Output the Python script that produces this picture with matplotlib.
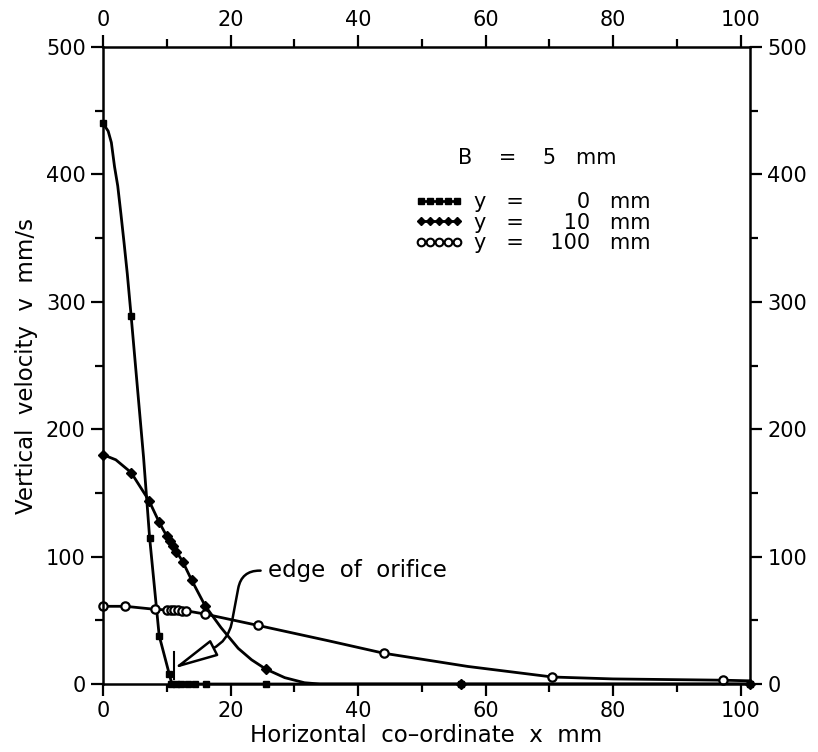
import matplotlib.pyplot as plt
from matplotlib.lines import Line2D

plt.rcParams['font.family'] = ['DejaVu Sans']

# y = 0 mm : markers and the line
x0_marks = [0, 4.4, 7.3, 8.8, 10.4, 10.7, 11.5, 12.3, 13.3, 14.4, 16.1, 25.5, 56.2, 101.5]
v0_marks = [440, 289, 115, 38, 7.5, 0, 0, 0, 0, 0, 0, 0, 0, 0]
x0_line = [0, 0.8, 1.3, 1.8, 2.3, 2.8, 3.3, 3.8, 4.4, 5.4, 6.35, 7.3, 8.8, 10.4, 10.8, 101.5]
v0_line = [440, 434, 425, 406, 391, 369, 346, 322, 289, 232, 178, 115, 38, 7.5, 0, 0]

# y = 10 mm
x10_marks = [0, 4.4, 7.2, 8.8, 10.0, 10.5, 11.0, 11.5, 12.5, 13.9, 16.0, 25.5, 56.2, 101.5]
v10_marks = [180, 166, 144, 127, 116, 112, 108, 104, 96, 81.5, 61.5, 11.8, 0, 0]
x10_line = [0, 2.0, 4.4, 7.2, 8.8, 10.0, 11.5, 12.5, 13.9, 16.0, 18.5, 21.2, 23.3, 25.5, 28.5, 31.6, 34, 101.5]
v10_line = [180, 176, 166, 144, 127, 116, 104, 96, 81.5, 61.5, 44.3, 28, 19, 11.8, 5, 1, 0, 0]

# y = 100 mm
x100_marks = [0, 3.5, 8.2, 10.0, 10.6, 11.2, 11.8, 12.4, 13.0, 16.0, 24.3, 44.0, 70.5, 97.2]
v100_marks = [61, 61, 58.6, 58, 58, 58, 58, 57.5, 57.5, 54.9, 46, 24.2, 5.5, 3]
x100_line = [0, 3.5, 8.2, 13.0, 16.0, 24.3, 35.3, 44.0, 57.2, 70.5, 80, 97.2, 101.5]
v100_line = [61, 61, 58.6, 57.5, 54.9, 46, 34, 24.2, 13.8, 5.5, 4, 3, 2.5]

xticks = [0, 20, 40, 60, 80, 100]
yticks = [0, 100, 200, 300, 400, 500]

fs = 15
fl = 16.5
fig = plt.figure(figsize=(8.18, 7.52), dpi=100)
ax = fig.add_axes([0.126, 0.0904, 0.791, 0.8471])

ax.plot(x0_line, v0_line, color='black', lw=2)
ax.plot(x10_line, v10_line, color='black', lw=2)
ax.plot(x100_line, v100_line, color='black', lw=2)
ax.plot(x0_marks, v0_marks, ls='none', marker='s', ms=5, color='black', clip_on=False)
ax.plot(x10_marks, v10_marks, ls='none', marker='D', ms=5, color='black', clip_on=False)
ax.plot(x100_marks, v100_marks, ls='none', marker='o', ms=6, mfc='white',
        mec='black', mew=1.6, clip_on=False)

ax.set_xlim(0, 101.5)
ax.set_ylim(0, 500)
ax.set_xticks(xticks)
ax.set_xticks(range(10, 101, 20), minor=True)
ax.set_yticks(yticks)
ax.set_yticks(range(50, 500, 100), minor=True)
ax.tick_params(which='both', direction='out', top=True, right=True,
               labeltop=True, labelright=True, width=1.6, labelsize=fs, pad=4)
ax.tick_params(which='major', length=8.5)
ax.tick_params(which='minor', length=6)
for sp in ax.spines.values():
    sp.set_linewidth(1.8)

ax.set_xlabel('Horizontal  co\u2013ordinate  x  mm', fontsize=fl, labelpad=2)
ax.set_ylabel('Vertical  velocity  v  mm/s', fontsize=fl, labelpad=6)

# legend
handles = [
    Line2D([], [], color='black', lw=2, marker='s', ms=5),
    Line2D([], [], color='black', lw=2, marker='D', ms=4.5),
    Line2D([], [], color='black', lw=2, marker='o', ms=5.5, mfc='white', mew=1.5),
]
labels = ['y   =        0   mm', 'y   =      10   mm', 'y   =    100   mm']
ax.text(0.549, 0.826, 'B    =    5   mm', transform=ax.transAxes, fontsize=fs,
        va='center', ha='left')
ax.legend(handles, labels, numpoints=5, loc='upper left',
          bbox_to_anchor=(0.482, 0.772), frameon=False, borderpad=0,
          borderaxespad=0, handlelength=2.3, handletextpad=0.55,
          labelspacing=0.02, fontsize=fs)

# edge of orifice annotation (arm lengths are in pixels)
ax.plot([11.1, 11.1], [4, 25], color='black', lw=1.5)
ax.annotate('edge  of  orifice', xy=(11.0, 12), xytext=(25.8, 89),
            fontsize=fl, va='center', ha='left',
            arrowprops=dict(arrowstyle='-|>,head_length=2.8,head_width=0.55',
                            fc='white', ec='black', lw=1.8, mutation_scale=10,
                            connectionstyle='arc,angleA=180,armA=26,angleB=27,armB=62,rad=18',
                            relpos=(0, 0.5), shrinkA=3, shrinkB=0))

fig.savefig('out.png', dpi=100)
